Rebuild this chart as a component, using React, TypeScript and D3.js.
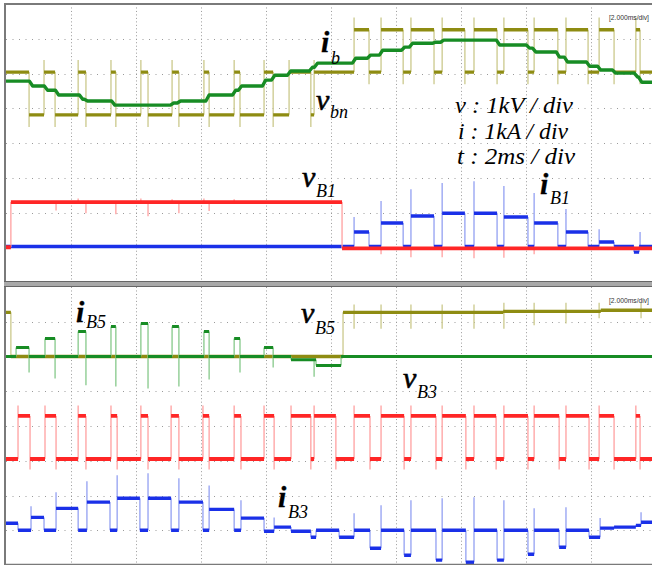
import React from "react";
import * as d3 from "d3";

type Pt = [number, number];

// ---------- time base: 2 ms/div, 10 div ----------
const T_END = 20;
const gridTimes = [2, 4, 6, 8, 10, 12, 14, 16, 18];
const gridDivs = [-3, -2, -1, 0, 1, 2, 3];

// ---------- top panel ----------
// v_bn (kV), channel offset in div
const vbnOffset = 2.04;
const vbnSteps: Pt[] = [
  [0, 0], [0.71, -1.23], [1.17, 0], [1.51, -1.23], [2.22, 0], [2.46, -1.23],
  [3.23, 0], [3.38, -1.23], [4.15, 0], [4.37, -1.23], [5.11, 0], [5.32, -1.23],
  [6.09, 0], [6.25, -1.23], [7.02, 0], [7.2, -1.23], [7.94, 0], [8.22, -1.23],
  [8.71, 0], [9.38, -1.23], [9.48, 0], [10.71, 1.22], [11.17, 0], [11.54, 1.22],
  [12.22, 0], [12.46, 1.22], [13.17, 0], [13.42, 1.22], [14.12, 0], [14.4, 1.22],
  [15.11, 0], [15.32, 1.22], [16.06, 0], [16.25, 1.22], [16.98, 0], [17.23, 1.22],
  [17.91, 0], [18.25, 1.22], [18.71, 0], [19.38, 1.22], [19.51, 0],
];
// i_b (kA)
const ibOffset = 2.04;
const ibSteps: Pt[] = [
  [0, -0.26], [0.77, -0.4], [1.23, -0.52], [1.57, -0.66], [2.31, -0.78], [2.46, -0.83],
  [3.3, -0.95], [5.11, -0.89], [5.32, -0.83], [6.2, -0.66], [7.02, -0.52], [7.2, -0.4],
  [7.94, -0.23], [8.22, -0.09], [8.71, 0.03], [9.38, 0.14], [9.54, 0.26], [10.71, 0.4],
  [11.17, 0.49], [11.54, 0.63], [12.22, 0.72], [12.46, 0.83], [13.17, 0.86], [13.42, 0.92],
  [15.14, 0.78], [16.06, 0.69], [16.25, 0.58], [16.98, 0.43], [17.23, 0.29], [17.91, 0.17],
  [18.25, 0.06], [18.71, -0.03], [19.38, -0.14], [19.51, -0.29],
];
// v_B1 (kV)
const vB1Offset = -3.0;
const vB1Steps: Pt[] = [[0, 0], [0.15, 1.3], [10.34, -0.03]];
const vB1Spikes: Pt[] = [
  [1.54, 1.06], [2.46, 0.98], [3.38, 0.95], [4.37, 0.89], [5.32, 0.98], [6.25, 1.04],
  [2.22, 1.4], [4.15, 1.4], [5.11, 1.38], [6.09, 1.4], [7.02, 1.38],
  [11.54, -0.2], [12.46, -0.29], [13.42, -0.29], [14.4, -0.32], [15.32, -0.3], [16.25, -0.2],
];
// i_B1 (kA)
const iB1Offset = -2.98;
const iB1Steps: Pt[] = [
  [0, 0], [10.71, 0.42], [11.17, 0], [11.54, 0.68], [12.22, 0], [12.46, 0.88],
  [13.17, 0], [13.42, 0.96], [14.12, 0], [14.4, 0.96], [15.11, 0], [15.32, 0.85],
  [16.06, 0], [16.25, 0.68], [16.98, 0], [17.23, 0.42], [17.91, 0], [18.25, 0.13],
  [18.71, 0], [19.32, -0.16], [19.48, 0],
];
const iB1Spikes: Pt[] = [
  [10.71, 0.85], [11.54, 1.31], [12.46, 1.65], [13.42, 1.83], [14.4, 1.88],
  [15.32, 1.74], [16.25, 1.54], [17.23, 1.08], [18.25, 0.5], [19.51, 0.42],
];

// ---------- bottom panel ----------
// v_B5 (kV)
const vB5Offset = 2.0;
const vB5Steps: Pt[] = [[0, 1.27], [0.15, 0], [10.37, 1.27], [15.3, 1.3], [18.3, 1.33]];
const vB5Spikes: Pt[] = [
  [10.71, 1.5], [10.71, 0.8], [11.54, 1.5], [11.54, 0.8], [12.46, 1.5], [12.46, 0.8],
  [13.42, 1.5], [13.42, 0.8], [14.4, 1.5], [14.4, 0.8], [15.32, 1.55], [15.32, 0.8],
  [16.25, 1.55], [16.25, 0.9], [17.23, 1.55], [17.23, 0.95], [18.25, 1.55], [18.25, 1.1],
  [19.54, 1.55], [19.54, 1.1],
];
// i_B5 (kA)
const iB5Offset = 2.0;
const iB5Steps: Pt[] = [
  [0, 0], [0.31, 0.26], [0.71, 0], [1.2, 0.52], [1.51, 0], [2.22, 0.72], [2.46, 0],
  [3.23, 0.86], [3.38, 0], [4.15, 0.95], [4.37, 0], [5.11, 0.86], [5.32, 0],
  [6.09, 0.72], [6.25, 0], [7.02, 0.52], [7.2, 0], [7.94, 0.26], [8.22, 0],
  [8.77, -0.09], [9.54, -0.26], [10.31, 0],
];
const iB5Spikes: Pt[] = [
  [0.71, -0.46], [1.51, -0.63], [2.46, -0.83], [3.38, -0.86], [4.37, -0.92],
  [5.32, -0.86], [6.25, -0.66], [7.2, -0.46], [8.22, -0.32], [9.48, -0.58],
];
// v_B3 (kV)
const vB3Offset = -0.95;
const vB3Steps: Pt[] = [
  [0, 0], [0.37, 1.24], [0.74, 0], [1.2, 1.24], [1.54, 0], [2.22, 1.24], [2.46, 0],
  [3.23, 1.24], [3.42, 0], [4.15, 1.24], [4.37, 0], [5.08, 1.24], [5.32, 0],
  [6.06, 1.24], [6.25, 0], [7.02, 1.24], [7.23, 0], [7.94, 1.24], [8.25, 0],
  [8.77, 1.24], [9.38, 0], [9.48, 1.24], [10.15, 0], [10.71, 1.24], [11.2, 0],
  [11.54, 1.24], [12.25, 0], [12.46, 1.24], [13.23, 0], [13.42, 1.24], [14.15, 0],
  [14.4, 1.24], [15.08, 0], [15.32, 1.24], [16.06, 0], [16.25, 1.24], [17.02, 0],
  [17.23, 1.24], [17.94, 0], [18.25, 1.24], [18.71, 0], [19.38, 1.24], [19.51, 0],
];
// i_B3 (kA)
const iB3Offset = -3.0;
const iB3Steps: Pt[] = [
  [0, 0.2], [0.37, 0], [0.77, 0.37], [1.17, 0], [1.54, 0.63], [2.22, 0], [2.49, 0.81],
  [3.2, 0], [3.42, 0.92], [4.12, 0], [4.37, 0.92], [5.08, 0], [5.32, 0.81], [6.06, 0],
  [6.25, 0.6], [7.02, 0], [7.23, 0.35], [7.94, -0.03], [8.25, 0.09], [8.77, -0.03],
  [9.38, -0.2], [9.54, 0], [10.25, -0.2], [10.71, 0], [11.2, -0.52], [11.54, 0],
  [12.25, -0.72], [12.46, 0], [13.23, -0.86], [13.42, 0], [14.15, -0.92], [14.4, 0],
  [15.11, -0.86], [15.32, 0], [16.06, -0.69], [16.25, 0], [17.02, -0.49], [17.23, 0],
  [17.94, -0.2], [18.28, 0.06], [18.71, 0.09], [19.38, 0.14], [19.54, 0.23],
];
const iB3Spikes: Pt[] = [
  [0.77, 0.69], [1.54, 1.09], [2.49, 1.41], [3.42, 1.58], [4.37, 1.64], [5.32, 1.5],
  [6.25, 1.29], [7.23, 0.86], [8.25, 0.37], [10.71, 0.49], [11.54, 0.72], [12.46, 0.86],
  [13.42, 0.92], [14.4, 0.95], [15.32, 0.86], [16.25, 0.63], [17.23, 0.66], [18.28, 0.35],
  [19.54, 0.52],
];

// ---------- labels ----------
const scaleTexts = ["v : 1kV / div", "i : 1kA / div", "t : 2ms / div"];
const timebaseText = "[2.000ms/div]";

// ---------- scales ----------
const x = d3.scaleLinear().domain([0, T_END]).range([6, 656]);
const yTop = d3.scaleLinear().domain([-4, 4]).range([282, 4]);
const yBot = d3.scaleLinear().domain([-4, 4]).range([565, 287]);

const OLIVE = "#8e8c12", OLIVE_L = "#cbc98c";
const GREEN = "#178c24", GREEN_L = "#86c98a";
const RED = "#ff2626", RED_L = "#ffa0a0";
const BLUE = "#1a30e8", BLUE_L = "#93a0f2";

function segmentsOf(steps: Pt[]) {
  return steps.map((s, i) => ({ t0: s[0], t1: i < steps.length - 1 ? steps[i + 1][0] : T_END, v: s[1] }));
}
function levelAt(steps: Pt[], t: number) {
  let v = steps[0][1];
  for (const s of steps) if (s[0] <= t + 1e-9) v = s[1];
  return v;
}

function StepTrace(props: {
  steps: Pt[]; spikes?: Pt[]; offset: number; y: d3.ScaleLinear<number, number>;
  dark: string; light: string; width?: number; overshoot?: number; ramp?: number;
}) {
  const { steps, spikes = [], offset, y, dark, light, width = 3.4, overshoot = 0, ramp = 0 } = props;
  const segs = segmentsOf(steps);
  const Y = (v: number) => y(offset + v);
  if (ramp > 0) {
    const pts: Pt[] = [];
    segs.forEach((s, i) => {
      const a = i === 0 ? s.t0 : s.t0 + ramp / 2;
      const b = i === segs.length - 1 ? s.t1 : s.t1 - ramp / 2;
      pts.push([a, s.v], [b, s.v]);
    });
    const line = d3.line<Pt>().x((d) => x(d[0])).y((d) => Y(d[1]));
    return <path d={line(pts) || ""} fill="none" stroke={dark} strokeWidth={width} strokeLinejoin="round" />;
  }
  const level = segs.map((s) => `M${x(s.t0)},${Y(s.v)}H${x(s.t1)}`).join("");
  const edges = segs
    .slice(1)
    .map((s, i) => {
      const prev = segs[i].v;
      const dir = s.v > prev ? 1 : -1;
      return `M${x(s.t0)},${Y(prev)}V${Y(s.v + dir * overshoot)}`;
    })
    .join("");
  const spk = spikes.map(([t, p]) => `M${x(t)},${Y(levelAt(steps, t))}V${Y(p)}`).join("");
  return (
    <g>
      <path d={edges + spk} stroke={light} strokeWidth={1.3} fill="none" />
      <path d={level} stroke={dark} strokeWidth={width} fill="none" />
    </g>
  );
}

function Grid({ y }: { y: d3.ScaleLinear<number, number> }) {
  const [y0, y1] = y.range();
  return (
    <g stroke="#9a9a9a" strokeWidth={1}>
      {gridTimes.map((t) => (
        <line key={"v" + t} x1={x(t) + 0.5} x2={x(t) + 0.5} y1={Math.min(y0, y1)} y2={Math.max(y0, y1)} strokeDasharray="1 2.475" />
      ))}
      {gridDivs.map((d) => (
        <line key={"h" + d} x1={6} x2={652} y1={Math.round(y(d)) + 0.5} y2={Math.round(y(d)) + 0.5} strokeDasharray="1 5.5" />
      ))}
    </g>
  );
}

const SERIF = "'Liberation Serif', 'Times New Roman', serif";

function Label({ main, sub, x0, y0, sx, sy }: { main: string; sub: string; x0: number; y0: number; sx: number; sy: number }) {
  const bold = main === "i";
  return (
    <g fontFamily={SERIF} fontStyle="italic" fill="#000">
      <text x={x0} y={y0} fontSize={30} fontWeight={bold ? "bold" : "normal"} stroke="#000" strokeWidth={bold ? 0.3 : 0.6}>{main}</text>
      <text x={sx} y={sy} fontSize={18}>{sub}</text>
    </g>
  );
}

export default function App() {
  return (
    <div style={{ position: "absolute", left: 0, top: 0 }}>
      <svg width={652} height={565} style={{ display: "block", background: "#fff" }}>
        <rect x={0} y={0} width={652} height={565} fill="#fff" />
        <Grid y={yTop} />
        <Grid y={yBot} />

        {/* top panel */}
        <StepTrace steps={vbnSteps} offset={vbnOffset} y={yTop} dark={OLIVE} light={OLIVE_L} overshoot={0.35} />
        <StepTrace steps={ibSteps} offset={ibOffset} y={yTop} dark={GREEN} light={GREEN_L} ramp={0.1} />
        <StepTrace steps={iB1Steps} spikes={iB1Spikes} offset={iB1Offset} y={yTop} dark={BLUE} light={BLUE_L} />
        <StepTrace steps={vB1Steps} spikes={vB1Spikes} offset={vB1Offset} y={yTop} dark={RED} light={RED_L} width={3.8} />

        {/* bottom panel */}
        <StepTrace steps={vB5Steps} spikes={vB5Spikes} offset={vB5Offset} y={yBot} dark={OLIVE} light={OLIVE_L} />
        <StepTrace steps={iB5Steps} spikes={iB5Spikes} offset={iB5Offset} y={yBot} dark={GREEN} light={GREEN_L} width={3} />
        <StepTrace steps={vB3Steps} offset={vB3Offset} y={yBot} dark={RED} light={RED_L} overshoot={0.3} width={3.8} />
        <StepTrace steps={iB3Steps} spikes={iB3Spikes} offset={iB3Offset} y={yBot} dark={BLUE} light={BLUE_L} />

        {/* frame */}
        <line x1={4} x2={652} y1={4} y2={4} stroke="#7a7a7a" strokeWidth={2} />
        <line x1={5} x2={5} y1={4} y2={565} stroke="#7a7a7a" strokeWidth={2} />
        <rect x={4} y={281} width={648} height={6} fill="#a9a9a9" />
        <line x1={4} x2={652} y1={281.5} y2={281.5} stroke="#666" strokeWidth={1} />
        <line x1={4} x2={652} y1={286.5} y2={286.5} stroke="#666" strokeWidth={1} />
        <line x1={4} x2={652} y1={564.5} y2={564.5} stroke="#7a7a7a" strokeWidth={1.5} />

        {/* timebase readouts */}
        <text x={609} y={20} fontSize={6.8} fontFamily="'Liberation Sans', Arial, sans-serif" fill="#333" textLength={40} lengthAdjust="spacingAndGlyphs">{timebaseText}</text>
        <text x={609} y={303} fontSize={6.8} fontFamily="'Liberation Sans', Arial, sans-serif" fill="#333" textLength={40} lengthAdjust="spacingAndGlyphs">{timebaseText}</text>

        {/* labels */}
        <Label main="i" sub="b" x0={321} y0={52} sx={331} sy={64} />
        <Label main="v" sub="bn" x0={316} y0={110} sx={330} sy={118} />
        <Label main="v" sub="B1" x0={302} y0={187} sx={316} sy={197} />
        <Label main="i" sub="B1" x0={540} y0={194} sx={550} sy={204} />
        <Label main="i" sub="B5" x0={76} y0={322} sx={86} sy={328} />
        <Label main="v" sub="B5" x0={301} y0={323} sx={315} sy={334} />
        <Label main="v" sub="B3" x0={403} y0={388} sx={417} sy={398} />
        <Label main="i" sub="B3" x0={278} y0={507} sx={288} sy={518} />

        <g fontFamily={SERIF} fontStyle="italic" fill="#000" fontSize={24}>
          <text x={455} y={113} textLength={118} lengthAdjust="spacingAndGlyphs">{scaleTexts[0]}</text>
          <text x={458} y={139} textLength={110} lengthAdjust="spacingAndGlyphs">{scaleTexts[1]}</text>
          <text x={457} y={164} textLength={118} lengthAdjust="spacingAndGlyphs">{scaleTexts[2]}</text>
        </g>
      </svg>
    </div>
  );
}
